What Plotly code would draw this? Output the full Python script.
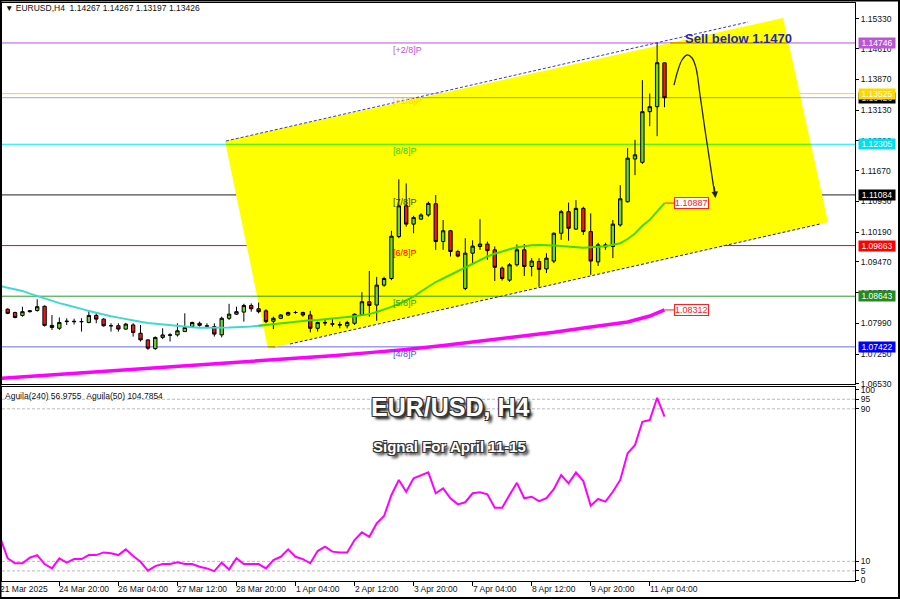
import plotly.graph_objects as go

FONT = "Liberation Sans, Arial, sans-serif"

# ---------------- data ----------------
x_label_idx = [0, 8, 16, 24, 32, 40, 48, 56, 64, 72, 80, 88]
x_labels = ["21 Mar 2025", "24 Mar 20:00", "26 Mar 04:00", "27 Mar 12:00", "28 Mar 20:00",
            "1 Apr 04:00", "2 Apr 12:00", "3 Apr 20:00", "7 Apr 04:00", "8 Apr 12:00",
            "9 Apr 20:00", "11 Apr 04:00"]

price_ticks = [1.15330, 1.14610, 1.13870, 1.13130, 1.12390, 1.11670, 1.10930, 1.10190,
               1.09470, 1.08730, 1.07990, 1.07250, 1.06530]
ind_ticks = [100, 95, 90, 10, 5, 0]
ind_levels = [95, 90, 10, 5]

opens = [1.0830, 1.0833, 1.0825, 1.0818, 1.0827, 1.0830, 1.0840, 1.0794, 1.0787, 1.0803,
         1.0804, 1.0803, 1.0801, 1.0818, 1.0809, 1.0793, 1.0793, 1.0785, 1.0795, 1.0775,
         1.0759, 1.0738, 1.0765, 1.0770, 1.0771, 1.0779, 1.0791, 1.0799, 1.0793, 1.0791,
         1.0771, 1.0811, 1.0821, 1.0826, 1.0842, 1.0834, 1.0829, 1.0804, 1.0811, 1.0819,
         1.0825, 1.0825, 1.0819, 1.0787, 1.0801, 1.0798, 1.0796, 1.0793, 1.0799, 1.0819,
         1.0851, 1.0843, 1.0891, 1.0907, 1.1008, 1.1082, 1.1038, 1.1050, 1.1060, 1.1087,
         1.0996, 1.1022, 1.0972, 1.0883, 1.0968, 1.0984, 1.0990, 1.0976, 1.0932, 1.0903,
         1.0940, 1.0976, 1.0936, 1.0948, 1.0930, 1.0949, 1.1016, 1.1068, 1.1026, 1.1076,
         1.1020, 1.0947, 1.0983, 1.0984, 1.1036, 1.1092, 1.1195, 1.1187, 1.1309, 1.1321,
         1.14267]
highs = [1.0833, 1.0835, 1.0827, 1.0839, 1.0831, 1.0857, 1.0842, 1.0819, 1.0813, 1.0811,
         1.0810, 1.0811, 1.0831, 1.0825, 1.0811, 1.0799, 1.0799, 1.0800, 1.0799, 1.0795,
         1.0760, 1.0767, 1.0787, 1.0775, 1.0799, 1.0823, 1.0803, 1.0803, 1.0799, 1.0799,
         1.0815, 1.0846, 1.0839, 1.0846, 1.0847, 1.0849, 1.0833, 1.0815, 1.0821, 1.0827,
         1.0829, 1.0827, 1.0829, 1.0803, 1.0807, 1.0809, 1.0803, 1.0805, 1.0823, 1.0874,
         1.0925, 1.0911, 1.0911, 1.1022, 1.1146, 1.1136, 1.1058, 1.1064, 1.1092, 1.1108,
         1.1048, 1.1024, 1.0976, 1.1004, 1.0999, 1.1050, 1.0996, 1.0984, 1.0936, 1.0944,
         1.0989, 1.0990, 1.0956, 1.0956, 1.0968, 1.1018, 1.1072, 1.1090, 1.1096, 1.1080,
         1.1064, 1.0993, 1.0993, 1.1048, 1.1132, 1.1221, 1.1241, 1.1385, 1.1353, 1.1475,
         1.14267]
lows = [1.0826, 1.0821, 1.0811, 1.0815, 1.0825, 1.0827, 1.0791, 1.0783, 1.0783, 1.0795,
        1.0796, 1.0779, 1.0799, 1.0799, 1.0791, 1.0779, 1.0779, 1.0783, 1.0767, 1.0755,
        1.0735, 1.0735, 1.0761, 1.0755, 1.0767, 1.0779, 1.0789, 1.0791, 1.0787, 1.0767,
        1.0765, 1.0807, 1.0819, 1.0803, 1.0827, 1.0823, 1.0799, 1.0785, 1.0809, 1.0817,
        1.0822, 1.0815, 1.0777, 1.0779, 1.0793, 1.0791, 1.0787, 1.0787, 1.0795, 1.0817,
        1.0815, 1.0805, 1.0887, 1.0903, 1.1004, 1.1032, 1.1016, 1.1048, 1.1056, 1.0976,
        1.0976, 1.0960, 1.0958, 1.0879, 1.0944, 1.0976, 1.0952, 1.0901, 1.0902, 1.0899,
        1.0936, 1.0913, 1.0912, 1.0887, 1.0920, 1.0944, 1.1000, 1.0998, 1.1024, 1.1012,
        1.0916, 1.0937, 1.0976, 1.0956, 1.1032, 1.1090, 1.1156, 1.1183, 1.1274, 1.1250,
        1.13197]
closes = [1.0829, 1.0823, 1.0813, 1.0827, 1.0829, 1.0839, 1.0794, 1.0789, 1.0801, 1.0804,
          1.0803, 1.0803, 1.0818, 1.0809, 1.0793, 1.0793, 1.0785, 1.0797, 1.0777, 1.0759,
          1.0739, 1.0765, 1.0771, 1.0771, 1.0781, 1.0789, 1.0801, 1.0794, 1.0792, 1.0773,
          1.0811, 1.0821, 1.0827, 1.0842, 1.0834, 1.0827, 1.0803, 1.0811, 1.0819, 1.0825,
          1.0825, 1.0819, 1.0787, 1.0801, 1.0800, 1.0797, 1.0795, 1.0801, 1.0821, 1.0851,
          1.0842, 1.0891, 1.0907, 1.1009, 1.1082, 1.1038, 1.1054, 1.1060, 1.1088, 1.0996,
          1.1022, 1.0972, 1.0961, 1.0968, 1.0985, 1.0990, 1.0974, 1.0934, 1.0907, 1.0940,
          1.0976, 1.0936, 1.0949, 1.0929, 1.0956, 1.1016, 1.1068, 1.1028, 1.1076, 1.1020,
          1.0949, 1.0988, 1.0988, 1.1038, 1.1099, 1.1197, 1.1205, 1.1309, 1.1321, 1.1427,
          1.13426]

ma_fast = [1.08886, 1.08852, 1.08816, 1.08770, 1.08705, 1.08643, 1.08590, 1.08537, 1.08476, 1.08430,
           1.08375, 1.08337, 1.08288, 1.08240, 1.08197, 1.08161, 1.08127, 1.08088, 1.08052, 1.08026,
           1.07997, 1.07977, 1.07958, 1.07941, 1.07922, 1.07905, 1.07895, 1.07883, 1.07881, 1.07876,
           1.07881, 1.07888, 1.07895, 1.07900, 1.07910, 1.07929, 1.07948, 1.07973, 1.07997, 1.08018,
           1.08040, 1.08055, 1.08062, 1.08069, 1.08091, 1.08108, 1.08124, 1.08141, 1.08161, 1.08180,
           1.08211, 1.08262, 1.08317, 1.08387, 1.08459, 1.08546, 1.08635, 1.08756, 1.08876, 1.08985,
           1.09069, 1.09158, 1.09250, 1.09339, 1.09428, 1.09517, 1.09599, 1.09667, 1.09727, 1.09775,
           1.09823, 1.09848, 1.09872, 1.09876, 1.09876, 1.09867, 1.09850, 1.09833, 1.09823, 1.09811,
           1.09821, 1.09831, 1.09848, 1.09881, 1.09920, 1.10021, 1.10154, 1.10339, 1.10484, 1.10686,
           1.10887]

ma_slow_idx = [0, 5, 10, 15, 20, 25, 30, 35, 40, 45, 50, 55, 60, 65, 70, 75, 80, 85, 88, 90]
ma_slow = [1.06664, 1.06724, 1.06782, 1.06840, 1.06900, 1.06960, 1.07021, 1.07081, 1.07139, 1.07209,
           1.07283, 1.07356, 1.07454, 1.07556, 1.07659, 1.07773, 1.07900, 1.08021, 1.08165, 1.08312]

aguila50 = [22.2, 11.6, 9.0, 9.0, 11.9, 13.3, 8.6, 6.3, 11.6, 9.3,
            11.2, 11.2, 13.3, 13.3, 14.7, 14.2, 13.3, 16.3, 12.8, 9.8,
            5.1, 7.5, 8.6, 8.6, 9.5, 8.6, 8.6, 7.2, 6.3, 4.9,
            9.3, 5.8, 11.6, 8.6, 8.6, 8.6, 6.3, 10.7, 12.4, 16.3,
            12.4, 11.2, 9.0, 15.4, 17.7, 15.1, 14.7, 14.7, 21.2, 25.2,
            22.9, 29.9, 33.8, 44.8, 52.7, 46.5, 53.6, 55.3, 56.7, 45.7,
            48.3, 43.1, 39.9, 41.0, 45.7, 46.2, 45.2, 38.1, 38.1, 44.8,
            51.2, 43.1, 43.9, 41.6, 43.1, 47.9, 55.3, 50.9, 56.7, 52.1,
            39.2, 42.7, 41.3, 46.5, 52.7, 66.7, 71.0, 83.2, 84.1, 95.8,
            85.9]

# Murrey math levels
levels = [1.14746, 1.13525, 1.13426, 1.12305, 1.11084, 1.09863, 1.08643, 1.07422]
level_names = ["[+2/8]P", "[+1/8]P", "", "[8/8]P", "[7/8]P", "[6/8]P", "[5/8]P", "[4/8]P"]
level_line_colors = ["#BA55D3", "#FFD700", "#A0ACBC", "#00EEFF", "#222222", "#FF0000", "#2A9A2A", "#6A6AF0"]
level_in_yellow = ["#BA5500", "#FFD700", "#A0AC00", "#20F020", "#222222", "#FF0000", "#2A9A00", "#6A6A00"]
level_text_colors = ["#BA55D3", "#FFD700", "#A0ACBC", "#30CC30", "#333333", "#FF0000", "#2A9A2A", "#4A4AF0"]
label_bg = ["#BA55D3", "#FFD700", "#000000", "#00E0F0", "#000000", "#FF0000", "#228B22", "#0000FF"]
label_fg = ["white", "white", "#C8C8C8", "white", "white", "white", "white", "white"]
label_order = [0, 2, 1, 3, 4, 5, 6, 7]
level_name_bar = 52.9

# channel drawing (bar index, price)
channel_idx = [30.45, 106.06, 112.15, 36.27]
channel_px = [1.12383, 1.15347, 1.10431, 1.07382]
upper_idx = [30.58, 101.31]
upper_px = [1.12383, 1.15251]
lower_idx = [39.25, 111.07]
lower_px = [1.07491, 1.10383]
arrow_idx = [91.29, 91.83, 92.37, 93.05, 93.73, 94.27, 94.81, 95.49, 96.84]
arrow_px = [1.13732, 1.14094, 1.14335, 1.14456, 1.14383, 1.14142, 1.13492, 1.12648, 1.11057]
arrow_head = (96.91, 1.11009)
arrow_tail = (96.71, 1.11322)
sell_text = "Sell below 1.1470"
sell_pos = (92.5, 1.14865)
ma_label_bar = 91.29

X_RANGE = [0.23, 115.81]
Y_MAIN = [1.06527, 1.15709]
Y_IND = [-0.3, 101.45]

bars = list(range(len(opens)))
poly = list(zip(channel_idx, channel_px))


def inside(px, py):
    c = False
    n = len(poly)
    for k in range(n):
        x1, y1 = poly[k]
        x2, y2 = poly[(k + 1) % n]
        if (y1 > py) != (y2 > py):
            xi = x1 + (py - y1) * (x2 - x1) / (y2 - y1)
            if px < xi:
                c = not c
    return c


def h_span(yv):
    xs = []
    n = len(poly)
    for k in range(n):
        x1, y1 = poly[k]
        x2, y2 = poly[(k + 1) % n]
        if (y1 - yv) * (y2 - yv) <= 0 and y1 != y2:
            t = (yv - y1) / (y2 - y1)
            xs.append(x1 + t * (x2 - x1))
    if len(xs) >= 2:
        return min(xs), max(xs)
    return None


def idx_to_paper(v):
    return (v - X_RANGE[0]) / (X_RANGE[1] - X_RANGE[0])


fig = go.Figure()

# candles
fig.add_trace(go.Candlestick(
    x=bars, open=opens, high=highs, low=lows, close=closes,
    xaxis="x2", yaxis="y2",
    increasing=dict(line=dict(color="black", width=1), fillcolor="#6CD636"),
    decreasing=dict(line=dict(color="black", width=1), fillcolor="#F01818"),
    hoverinfo="skip"))

# fast MA split into outside (turquoise) / inside yellow (green)
ins = [inside(b, v) for b, v in zip(bars, ma_fast)]
n = len(bars)
out_y, in_y = [], []
for k in range(n):
    near_out = (not ins[k]) or (k > 0 and not ins[k - 1]) or (k < n - 1 and not ins[k + 1])
    near_in = ins[k] or (k > 0 and ins[k - 1]) or (k < n - 1 and ins[k + 1])
    out_y.append(ma_fast[k] if near_out else None)
    in_y.append(ma_fast[k] if near_in else None)
fig.add_trace(go.Scatter(x=bars, y=out_y, mode="lines", line=dict(color="#40D8D0", width=2),
                         xaxis="x2", yaxis="y2", hoverinfo="skip"))
fig.add_trace(go.Scatter(x=bars, y=in_y, mode="lines", line=dict(color="#44D800", width=2),
                         xaxis="x2", yaxis="y2", hoverinfo="skip"))

# slow MA
fig.add_trace(go.Scatter(x=ma_slow_idx, y=ma_slow, mode="lines", line=dict(color="#FF00FF", width=3.5),
                         xaxis="x2", yaxis="y2", hoverinfo="skip"))

# arrow curve
fig.add_trace(go.Scatter(x=arrow_idx, y=arrow_px, mode="lines",
                         line=dict(color="#222222", width=1.3, shape="spline"),
                         xaxis="x2", yaxis="y2", hoverinfo="skip"))

# indicator
fig.add_trace(go.Scatter(x=bars, y=aguila50, mode="lines", line=dict(color="#FF00FF", width=2),
                         xaxis="x", yaxis="y", hoverinfo="skip"))

shapes = []
path = "M " + " L ".join(f"{a},{b}" for a, b in poly) + " Z"
shapes.append(dict(type="path", path=path, xref="x2", yref="y2", fillcolor="#FFFF00",
                   line=dict(width=0), layer="below"))
for lv, col, bcol in zip(levels, level_line_colors, level_in_yellow):
    shapes.append(dict(type="line", xref="x2 domain", yref="y2", x0=0, x1=1, y0=lv, y1=lv,
                       line=dict(color=col, width=1), layer="below"))
    sp = h_span(lv)
    if sp and bcol != col:
        shapes.append(dict(type="line", xref="x2", yref="y2", x0=sp[0], x1=sp[1], y0=lv, y1=lv,
                           line=dict(color=bcol, width=1), layer="below"))
shapes.append(dict(type="line", xref="x2", yref="y2", x0=upper_idx[0], x1=upper_idx[1],
                   y0=upper_px[0], y1=upper_px[1], line=dict(color="#3535D8", width=1, dash="3px,2px")))
shapes.append(dict(type="line", xref="x2", yref="y2", x0=lower_idx[0], x1=lower_idx[1],
                   y0=lower_px[0], y1=lower_px[1], line=dict(color="#202050", width=1, dash="3px,2px")))
# MA label connectors
for val in (ma_fast[-1], ma_slow[-1]):
    shapes.append(dict(type="line", xref="x2", yref="y2", x0=bars[-1], x1=ma_label_bar, y0=val, y1=val,
                       line=dict(color="#FF2020", width=1)))
# indicator dashed levels
for lv in ind_levels:
    shapes.append(dict(type="line", xref="x domain", yref="y", x0=0, x1=1, y0=lv, y1=lv,
                       line=dict(color="#BBBBBB", width=1, dash="3px,2px"), layer="below"))
# outer frame
shapes.append(dict(type="rect", xref="paper", yref="paper", x0=-0.00176, x1=1.05158,
                   y0=-0.02941, y1=1.00433, line=dict(color="black", width=2)))

ann = []
# right side level boxes
for k in label_order:
    ann.append(dict(xref="paper", yref="y2", x=1.0035, y=levels[k], xanchor="left", yanchor="middle",
                    text=f"{levels[k]:.5f}", showarrow=False, bgcolor=label_bg[k], width=36,
                    borderpad=0, font=dict(family=FONT, size=8.5, color=label_fg[k])))
# level names
for k, nm in enumerate(level_names):
    if nm:
        ann.append(dict(xref="x2", yref="y2", x=level_name_bar, y=levels[k], xanchor="left",
                        yanchor="top", text=nm, showarrow=False,
                        font=dict(family=FONT, size=9, color=level_text_colors[k])))
# MA value boxes
for val in (ma_fast[-1], ma_slow[-1]):
    ann.append(dict(xref="x2", yref="y2", x=ma_label_bar, y=val, xanchor="left", yanchor="middle",
                    text=f"{val:.5f}", showarrow=False, bgcolor="white", bordercolor="#FF2020",
                    borderwidth=1, borderpad=0, font=dict(family=FONT, size=9, color="#FF2020")))
# arrow head
ann.append(dict(xref="x2", yref="y2", axref="x2", ayref="y2", x=arrow_head[0], y=arrow_head[1],
                ax=arrow_tail[0], ay=arrow_tail[1], text="", showarrow=True, arrowhead=2,
                arrowsize=1, arrowwidth=1.3, arrowcolor="#222222"))
# sell text
ann.append(dict(xref="x2", yref="y2", x=sell_pos[0], y=sell_pos[1], xanchor="left", yanchor="middle",
                text=sell_text, showarrow=False,
                font=dict(family=FONT, size=13, color="#2626B8", weight="bold")))
# titles
shadow = "-1px -1px 0 #333, 1px -1px 0 #333, -1px 1px 0 #333, 1px 1px 0 #333, 3px 3px 3px #000"
ann.append(dict(xref="paper", yref="paper", x=0.5252, y=0.3002, xanchor="center", yanchor="middle",
                text="EUR/USD, H4", showarrow=False,
                font=dict(family=FONT, size=25, color="white", weight="bold", shadow=shadow)))
ann.append(dict(xref="paper", yref="paper", x=0.5252, y=0.2324, xanchor="center", yanchor="middle",
                text="Signal For April 11-15", showarrow=False,
                font=dict(family=FONT, size=15, color="white", weight="bold", shadow=shadow)))
ann.append(dict(xref="paper", yref="paper", x=0.0012, y=0.9922, xanchor="left", yanchor="middle",
                text="\u25bc EURUSD,H4\u00a0\u00a01.14267 1.14267 1.13197 1.13426", showarrow=False,
                font=dict(family=FONT, size=8.5, color="#111111")))
ann.append(dict(xref="paper", yref="paper", x=0.0012, y=0.3201, xanchor="left", yanchor="middle",
                text="Aguila(240) 56.9755\u00a0\u00a0Aguila(50) 104.7854", showarrow=False,
                font=dict(family=FONT, size=8.5, color="#111111")))
# x labels (paper coordinates from the x-axis scale so the first, clipped one still shows)
for idx, lab in zip(x_label_idx, x_labels):
    ann.append(dict(xref="paper", yref="paper", x=idx_to_paper(idx), y=-0.0138, xanchor="left",
                    yanchor="middle", xshift=-2, text=lab, showarrow=False,
                    font=dict(family=FONT, size=8.5, color="#111111")))

axis_common = dict(showgrid=False, zeroline=False, showline=True, mirror=True,
                   linecolor="black", linewidth=1)
fig.update_layout(
    width=900, height=599, margin=dict(l=2, r=45, t=3, b=18),
    paper_bgcolor="white", plot_bgcolor="white", showlegend=False, hovermode=False,
    boxgap=0.35,
    xaxis=dict(domain=[0, 1], range=X_RANGE, anchor="y", ticks="outside", ticklen=4,
               tickcolor="black", tickvals=x_label_idx, showticklabels=False,
               rangeslider=dict(visible=False), **axis_common),
    xaxis2=dict(domain=[0, 1], range=X_RANGE, anchor="y2", matches="x", showticklabels=False,
                ticks="", rangeslider=dict(visible=False), **axis_common),
    yaxis=dict(domain=[0, 0.33564], range=Y_IND, side="right", tickvals=ind_ticks,
               ticks="outside", ticklen=3, tickcolor="black",
               tickfont=dict(family=FONT, size=8.5, color="#111111"), **axis_common),
    yaxis2=dict(domain=[0.34083, 1], range=Y_MAIN, side="right", tickvals=price_ticks,
                tickformat=".5f", ticks="outside", ticklen=3, tickcolor="black",
                tickfont=dict(family=FONT, size=8.5, color="#111111"), **axis_common),
    shapes=shapes, annotations=ann,
)

fig.write_html("out.html", config={"displayModeBar": False},
               post_script="document.body.style.margin='0px';document.body.style.overflow='hidden';")
